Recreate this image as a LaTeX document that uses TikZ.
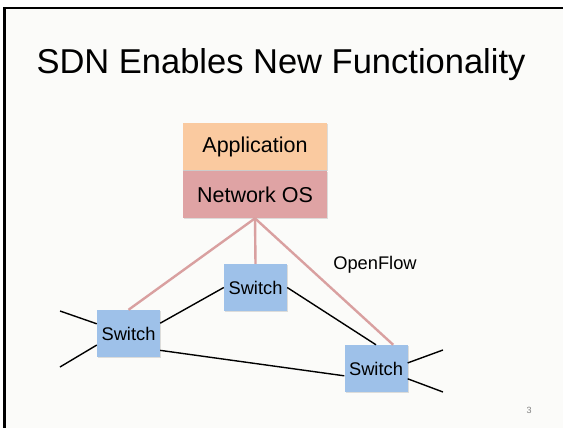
\documentclass[tikz,border=0pt]{standalone}
\usepackage{fontspec}
\setmainfont{Liberation Sans}
\usetikzlibrary{positioning,shadows}

\definecolor{appcol}{RGB}{250,202,160}
\definecolor{oscol}{RGB}{223,163,164}
\definecolor{swcol}{RGB}{158,193,233}
\definecolor{ctrlcol}{RGB}{217,160,160}
\definecolor{slidebg}{RGB}{251,251,249}

\begin{document}
\begin{tikzpicture}[x=1pt,y=-1pt,
    layer/.style={rectangle,minimum width=144pt,minimum height=47.5pt,inner sep=0pt,font=\fontsize{21.5}{24}\selectfont,drop shadow={shadow xshift=1pt,shadow yshift=-1pt,opacity=0.25}},
    sw/.style={rectangle,fill=swcol,minimum width=63pt,minimum height=47pt,inner sep=0pt,font=\fontsize{18.3}{20}\selectfont,drop shadow={shadow xshift=1pt,shadow yshift=-1pt,opacity=0.25}},
    link/.style={black,line width=1.4pt},
    ctrl/.style={ctrlcol,line width=2.4pt}]
  \useasboundingbox (0,0) rectangle (563,428);
  \fill[slidebg] (4.5,8) rectangle (563,428);
  \draw[line width=2.5pt] (4.5,428) -- (4.5,8) -- (563,8);

  \node[anchor=base,font=\fontsize{34.5}{38}\selectfont] (title) at (281,74) {SDN Enables New Functionality};

  % controller stack
  \node[layer,fill=appcol] (app) at (255,146.5) {Application};
  \node[layer,fill=oscol,below=0pt of app] (os) {Network OS};
  \draw[gray!40,line width=0.8pt] (app.south west) -- (app.south east);

  % switches
  \node[sw] (sw1) at (128.5,333.5) {Switch};
  \node[sw] (sw2) at (255.5,287.5) {Switch};
  \node[sw] (sw3) at (376,368.5) {Switch};

  \node[font=\fontsize{18.3}{20}\selectfont] (of) at (375,265) {OpenFlow};

  \coordinate (h1) at (60,311);
  \coordinate (h2) at (60,367);
  \coordinate (h3) at (443,350);
  \coordinate (h4) at (443,392);

  % control channels
  \draw[ctrl] (os.south) -- (sw1.north);
  \draw[ctrl] (os.south) -- (sw2.north);
  \draw[ctrl] (os.south) -- (sw3.54);

  % data links
  \draw[link] (h1) -- (sw1.163);
  \draw[link] (h2) -- (sw1.200);
  \draw[link] (sw1.18) -- (sw2.west);
  \draw[link] (sw1.-28) -- (sw3.193);
  \draw[link] (sw2.east) -- (sw3.north);
  \draw[link] (sw3.10) -- (h3);
  \draw[link] (sw3.-18) -- (h4);

  \node[text=gray,font=\fontsize{9}{10}\selectfont] (num) at (529,410) {3};
\end{tikzpicture}
\end{document}
